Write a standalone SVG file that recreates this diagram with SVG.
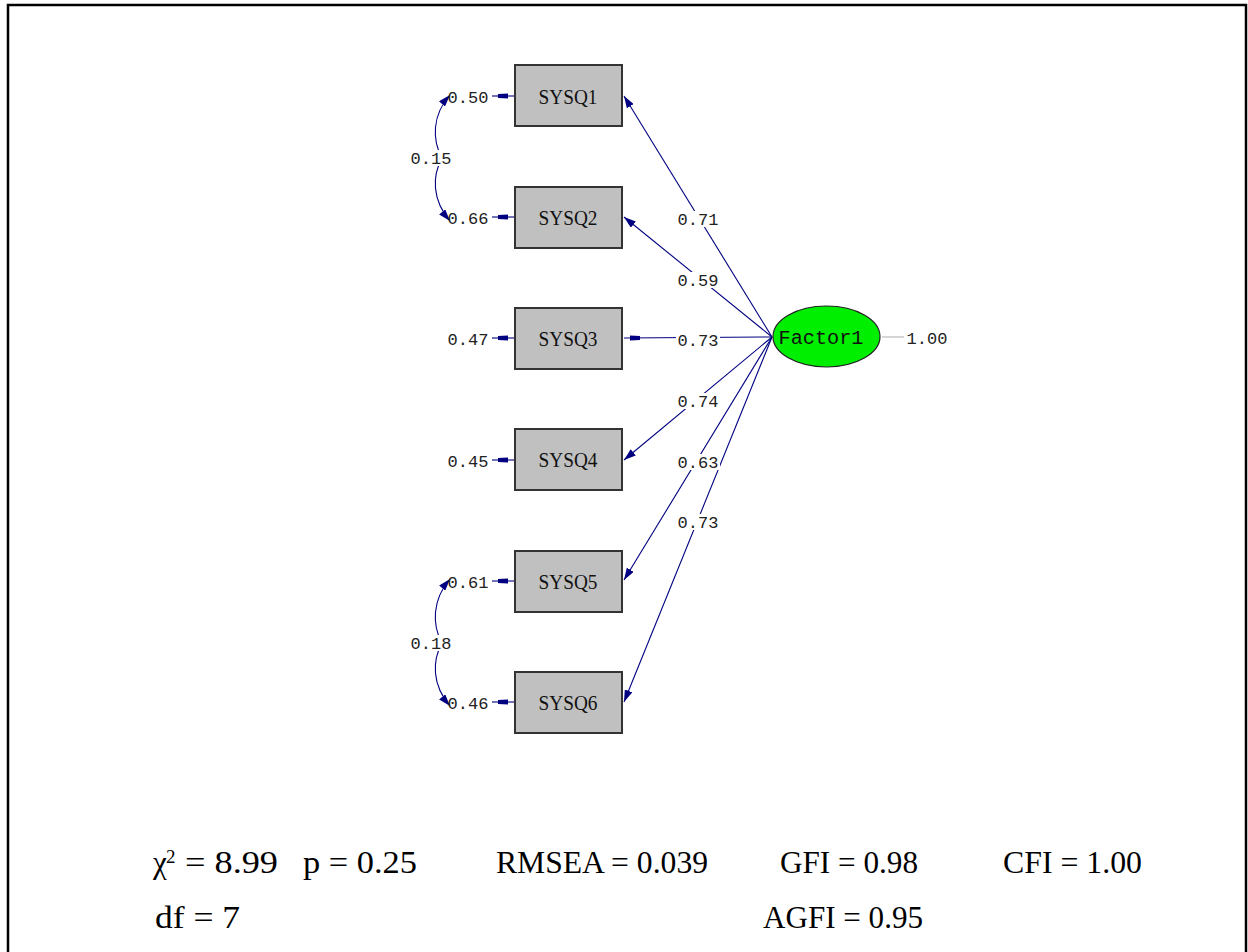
<svg xmlns="http://www.w3.org/2000/svg" width="1248" height="952" viewBox="0 0 1248 952">
<style>
.box{fill:#c0c0c0;stroke:#333;stroke-width:2}
.bt{font-family:"Liberation Serif",serif;font-size:21px;fill:#111;text-anchor:middle}
.lbl{font-family:"Liberation Mono",monospace;font-size:17px;fill:#222;text-anchor:middle}
.ln{stroke:#000080;stroke-width:1.1;fill:none}
.st{font-family:"Liberation Serif",serif;font-size:31px;fill:#000}
.sup{font-family:"Liberation Serif",serif;font-size:19px;fill:#000}
.bg{fill:#fff}
</style>
<defs>
<marker id="ah" viewBox="0 0 12 8" refX="12" refY="4" markerWidth="12" markerHeight="8" markerUnits="userSpaceOnUse" orient="auto">
<path d="M0,0 L12,4 L0,8 Z" fill="#000080"/>
</marker>
<marker id="eh" viewBox="0 0 16 8" refX="16" refY="4" markerWidth="16" markerHeight="8" markerUnits="userSpaceOnUse" orient="auto">
<path d="M0,2 L10,1.5 L10,6.5 L0,6 Z" fill="#000080"/>
</marker>
</defs>
<rect x="0" y="0" width="1248" height="952" fill="#fff"/>
<path d="M8,960 L8,5 L1246,5 L1246,960" fill="none" stroke="#000" stroke-width="2.5"/>

<g id="connectors">
<line class="ln" x1="772" y1="337" x2="624" y2="96" marker-end="url(#ah)"/>
<line class="ln" x1="772" y1="337" x2="624" y2="217" marker-end="url(#ah)"/>
<line class="ln" x1="772" y1="337" x2="624" y2="338" marker-end="url(#eh)"/>
<line class="ln" x1="772" y1="337" x2="624" y2="460" marker-end="url(#ah)"/>
<line class="ln" x1="772" y1="337" x2="624" y2="580" marker-end="url(#ah)"/>
<line class="ln" x1="772" y1="337" x2="624" y2="702" marker-end="url(#ah)"/>
<line x1="882" y1="337" x2="904" y2="337" stroke="#bbb" stroke-width="1.2"/>
<line class="ln" x1="492" y1="96" x2="514" y2="96" marker-end="url(#eh)"/>
<line class="ln" x1="492" y1="217" x2="514" y2="217" marker-end="url(#eh)"/>
<line class="ln" x1="492" y1="338" x2="514" y2="338" marker-end="url(#eh)"/>
<line class="ln" x1="492" y1="460" x2="514" y2="460" marker-end="url(#eh)"/>
<line class="ln" x1="492" y1="581" x2="514" y2="581" marker-end="url(#eh)"/>
<line class="ln" x1="492" y1="702" x2="514" y2="702" marker-end="url(#eh)"/>
<path class="ln" d="M442,158 C432,140 432,115 450,95" marker-end="url(#ah)"/>
<path class="ln" d="M442,158 C432,176 432,200 450,221" marker-end="url(#ah)"/>
<path class="ln" d="M442,643 C432,625 432,600 450,579" marker-end="url(#ah)"/>
<path class="ln" d="M442,643 C432,661 432,685 450,706" marker-end="url(#ah)"/>
<rect class="bg" x="409" y="150" width="44" height="16"/>
<text class="lbl" x="431" y="164">0.15</text>
<rect class="bg" x="409" y="635" width="44" height="16"/>
<text class="lbl" x="431" y="649">0.18</text>
<rect class="bg" x="676" y="211" width="44" height="16"/>
<text class="lbl" x="698" y="225">0.71</text>
<rect class="bg" x="676" y="272" width="44" height="16"/>
<text class="lbl" x="698" y="286">0.59</text>
<rect class="bg" x="676" y="332" width="44" height="16"/>
<text class="lbl" x="698" y="346">0.73</text>
<rect class="bg" x="676" y="393" width="44" height="16"/>
<text class="lbl" x="698" y="407">0.74</text>
<rect class="bg" x="676" y="454" width="44" height="16"/>
<text class="lbl" x="698" y="468">0.63</text>
<rect class="bg" x="676" y="514" width="44" height="16"/>
<text class="lbl" x="698" y="528">0.73</text>
<text class="lbl" x="927" y="344">1.00</text>
<text class="lbl" x="468" y="103">0.50</text>
<text class="lbl" x="468" y="224">0.66</text>
<text class="lbl" x="468" y="345">0.47</text>
<text class="lbl" x="468" y="467">0.45</text>
<text class="lbl" x="468" y="588">0.61</text>
<text class="lbl" x="468" y="709">0.46</text>
</g>

<g id="SYSQ1"><rect class="box" x="515" y="65" width="107" height="61"/><text class="bt" x="568" y="104" textLength="59" lengthAdjust="spacingAndGlyphs">SYSQ1</text></g>
<g id="SYSQ2"><rect class="box" x="515" y="187" width="107" height="61"/><text class="bt" x="568" y="225" textLength="59" lengthAdjust="spacingAndGlyphs">SYSQ2</text></g>
<g id="SYSQ3"><rect class="box" x="515" y="308" width="107" height="61"/><text class="bt" x="568" y="346" textLength="59" lengthAdjust="spacingAndGlyphs">SYSQ3</text></g>
<g id="SYSQ4"><rect class="box" x="515" y="429" width="107" height="61"/><text class="bt" x="568" y="467" textLength="59" lengthAdjust="spacingAndGlyphs">SYSQ4</text></g>
<g id="SYSQ5"><rect class="box" x="515" y="551" width="107" height="61"/><text class="bt" x="568" y="589" textLength="59" lengthAdjust="spacingAndGlyphs">SYSQ5</text></g>
<g id="SYSQ6"><rect class="box" x="515" y="672" width="107" height="61"/><text class="bt" x="568" y="710" textLength="59" lengthAdjust="spacingAndGlyphs">SYSQ6</text></g>
<g id="Factor1">
<ellipse cx="826.5" cy="336.5" rx="53.5" ry="30.5" fill="#00ee00" stroke="#222" stroke-width="1.2"/>
<text x="821" y="344" font-family="Liberation Mono,monospace" font-size="20" fill="#111" text-anchor="middle" textLength="85" lengthAdjust="spacingAndGlyphs">Factor1</text>
</g>

<g id="stats">
<text class="st" x="153" y="873">χ</text>
<text class="sup" x="166" y="863">2</text>
<text class="st" x="185" y="873" textLength="93" lengthAdjust="spacingAndGlyphs">= 8.99</text>
<text class="st" x="303" y="873" textLength="114" lengthAdjust="spacingAndGlyphs">p = 0.25</text>
<text class="st" x="496" y="873" textLength="212" lengthAdjust="spacingAndGlyphs">RMSEA = 0.039</text>
<text class="st" x="780" y="873" textLength="138" lengthAdjust="spacingAndGlyphs">GFI = 0.98</text>
<text class="st" x="1003" y="873" textLength="139" lengthAdjust="spacingAndGlyphs">CFI = 1.00</text>
<text class="st" x="155" y="928" textLength="85" lengthAdjust="spacingAndGlyphs">df  = 7</text>
<text class="st" x="763" y="928" textLength="160" lengthAdjust="spacingAndGlyphs">AGFI = 0.95</text>
</g>
</svg>
